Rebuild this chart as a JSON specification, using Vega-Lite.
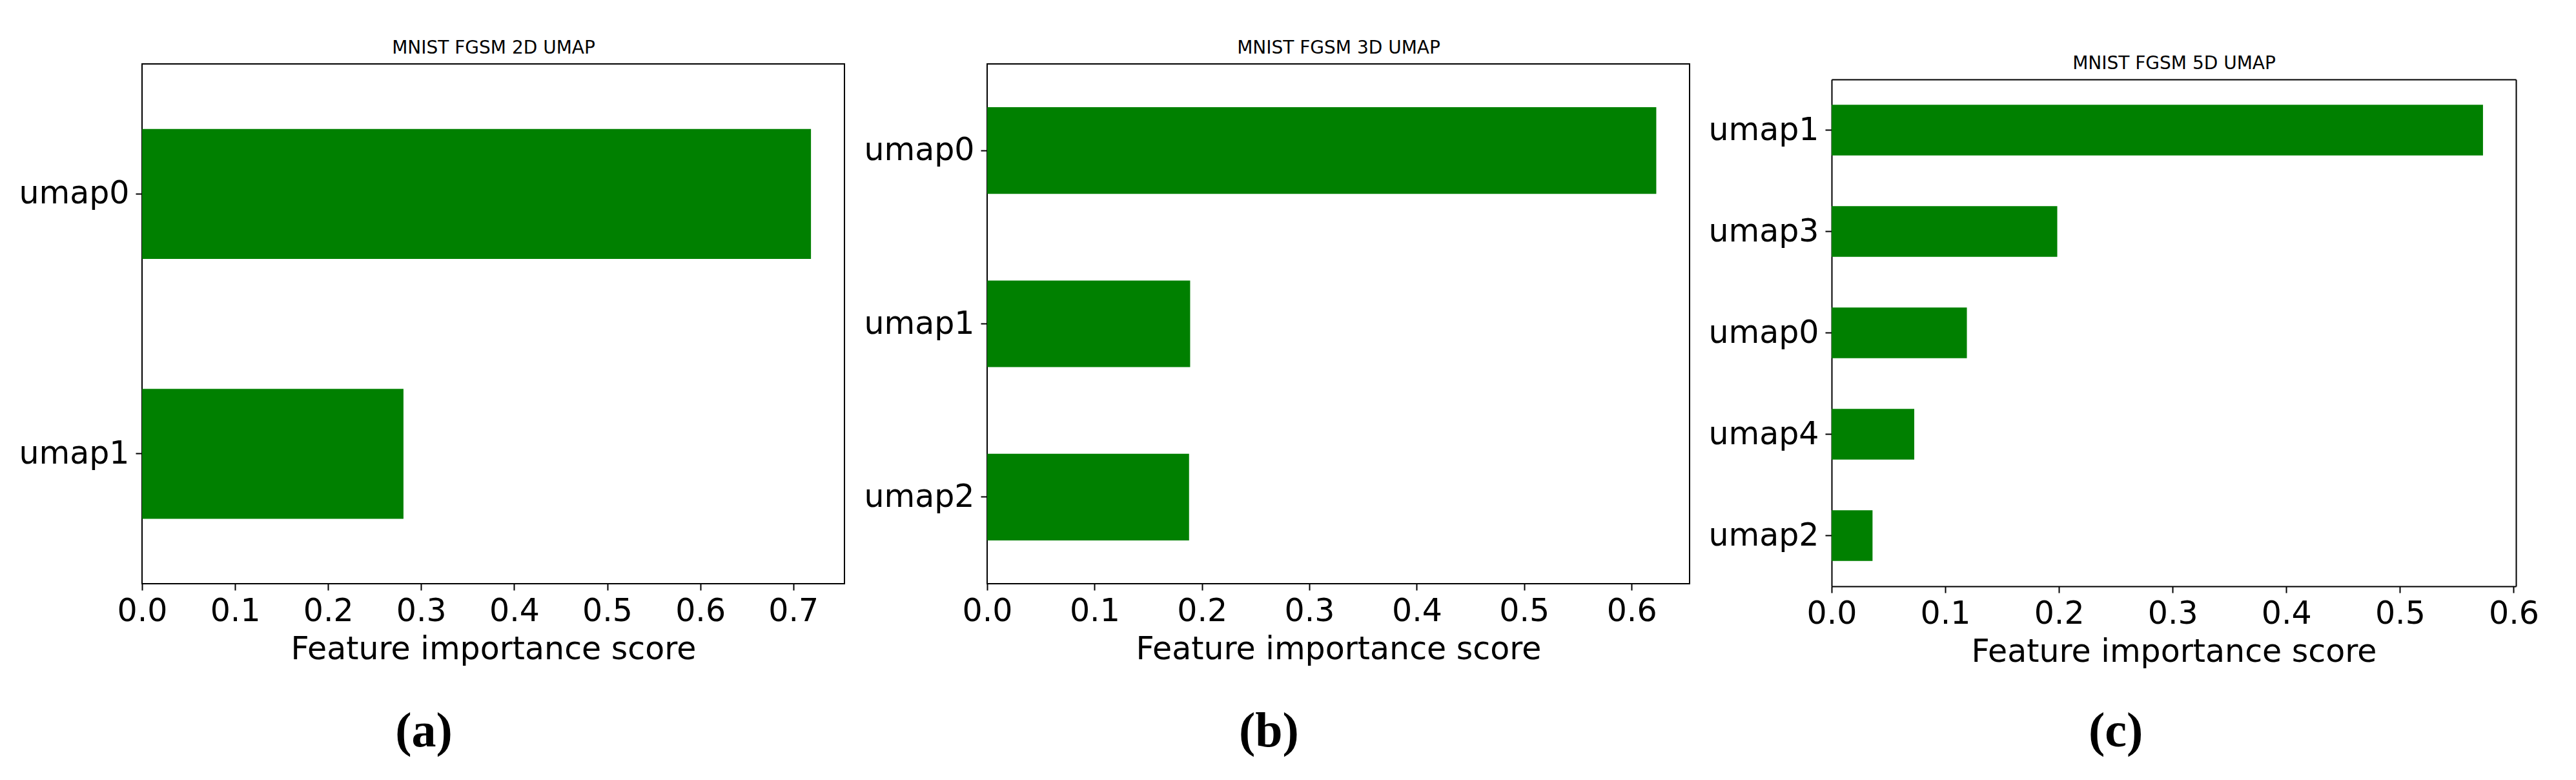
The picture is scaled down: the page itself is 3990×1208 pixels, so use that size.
{
  "$schema": "https://vega.github.io/schema/vega-lite/v6.json",
  "padding": {"left": 27, "top": 59, "right": 0, "bottom": 0},
  "background": "white",
  "spacing": 27,
  "datasets": {
    "a": [
      {"feature": "umap0", "score": 0.719},
      {"feature": "umap1", "score": 0.281}
    ],
    "b": [
      {"feature": "umap0", "score": 0.623},
      {"feature": "umap1", "score": 0.189},
      {"feature": "umap2", "score": 0.188}
    ],
    "c": [
      {"feature": "umap1", "score": 0.573},
      {"feature": "umap3", "score": 0.1985},
      {"feature": "umap0", "score": 0.119},
      {"feature": "umap4", "score": 0.0727},
      {"feature": "umap2", "score": 0.036}
    ]
  },
  "hconcat": [
    {
      "width": 1088, "height": 805,
      "data": {"name": "a"},
      "title": {"text": "(a)", "orient": "bottom", "font": "Liberation Serif", "fontSize": 76, "fontWeight": "bold", "offset": 66, "anchor": "middle", "frame": "bounds", "dx": -12, "color": "black"},
      "layer": [
        {
          "mark": {"type": "bar", "color": "#008000"},
          "encoding": {
            "y": {"field": "feature", "type": "nominal", "sort": "-x", "scale": {"paddingInner": 0.5, "paddingOuter": 0.25}, "axis": {"title": null, "labelPadding": 10}},
            "x": {"field": "score", "type": "quantitative", "scale": {"domain": [0, 0.755], "nice": false, "zero": true}, "axis": {"orient": "bottom", "values": [0, 0.1, 0.2, 0.3, 0.4, 0.5, 0.6, 0.7], "format": ".1f", "title": "Feature importance score"}}
          }
        },
        {
          "mark": {"type": "bar", "opacity": 0},
          "encoding": {
            "y": {"field": "feature", "type": "nominal", "sort": "-x", "axis": {"title": null, "labelPadding": 10}},
            "x": {"field": "score", "type": "quantitative", "axis": {"orient": "top", "title": "MNIST FGSM 2D UMAP", "labels": false, "ticks": false, "domain": false, "grid": false, "titlePadding": 11, "titleFontSize": 28}}
          }
        }
      ]
    },
    {
      "width": 1088, "height": 805,
      "data": {"name": "b"},
      "title": {"text": "(b)", "orient": "bottom", "font": "Liberation Serif", "fontSize": 76, "fontWeight": "bold", "offset": 66, "anchor": "middle", "frame": "bounds", "dx": -12, "color": "black"},
      "layer": [
        {
          "mark": {"type": "bar", "color": "#008000"},
          "encoding": {
            "y": {"field": "feature", "type": "nominal", "sort": "-x", "scale": {"paddingInner": 0.5, "paddingOuter": 0.25}, "axis": {"title": null, "labelPadding": 10}},
            "x": {"field": "score", "type": "quantitative", "scale": {"domain": [0, 0.654], "nice": false, "zero": true}, "axis": {"orient": "bottom", "values": [0, 0.1, 0.2, 0.3, 0.4, 0.5, 0.6], "format": ".1f", "title": "Feature importance score"}}
          }
        },
        {
          "mark": {"type": "bar", "opacity": 0},
          "encoding": {
            "y": {"field": "feature", "type": "nominal", "sort": "-x", "axis": {"title": null, "labelPadding": 10}},
            "x": {"field": "score", "type": "quantitative", "axis": {"orient": "top", "title": "MNIST FGSM 3D UMAP", "labels": false, "ticks": false, "domain": false, "grid": false, "titlePadding": 11, "titleFontSize": 28}}
          }
        }
      ]
    },
    {
      "width": 1060, "height": 809,
      "data": {"name": "c"},
      "view": {"stroke": null},
      "title": {"text": "(c)", "orient": "bottom", "font": "Liberation Serif", "fontSize": 76, "fontWeight": "bold", "offset": 62, "anchor": "middle", "frame": "bounds", "dx": -12, "color": "black"},
      "resolve": {"axis": {"x": "independent", "y": "independent"}},
      "layer": [
        {
          "mark": {"type": "bar", "color": "#008000"},
          "encoding": {
            "y": {"field": "feature", "type": "nominal", "sort": "-x", "scale": {"paddingInner": 0.5, "paddingOuter": 0.25, "range": [24, 809]}, "axis": {"orient": "left", "title": null, "labelPadding": 10, "domain": true, "domainColor": "black", "domainWidth": 2}},
            "x": {"field": "score", "type": "quantitative", "scale": {"domain": [0, 0.602], "nice": false, "zero": true}, "axis": {"orient": "bottom", "values": [0, 0.1, 0.2, 0.3, 0.4, 0.5, 0.6], "format": ".1f", "title": "Feature importance score", "domain": true, "domainColor": "black", "domainWidth": 2}}
          }
        },
        {
          "mark": {"type": "bar", "opacity": 0},
          "encoding": {
            "y": {"field": "feature", "type": "nominal", "sort": "-x", "axis": {"orient": "right", "title": null, "labels": false, "ticks": false, "domain": true, "domainColor": "black", "domainWidth": 2}},
            "x": {"field": "score", "type": "quantitative", "axis": {"orient": "top", "offset": -24, "title": "MNIST FGSM 5D UMAP", "labels": false, "ticks": false, "domain": true, "domainColor": "black", "domainWidth": 2, "grid": false, "titlePadding": 11, "titleFontSize": 28}}
          }
        }
      ]
    }
  ],
  "config": {
    "font": "DejaVu Sans",
    "view": {"stroke": "black", "strokeWidth": 2},
    "axis": {
      "labelFont": "DejaVu Sans", "titleFont": "DejaVu Sans",
      "labelFontSize": 49, "titleFontSize": 49,
      "labelColor": "black", "titleColor": "black",
      "titleFontWeight": "normal",
      "tickColor": "black", "tickSize": 10, "tickWidth": 2,
      "domain": false, "grid": false,
      "labelPadding": 8, "titlePadding": 10,
      "labelFlush": false, "labelOverlap": false
    }
  }
}
